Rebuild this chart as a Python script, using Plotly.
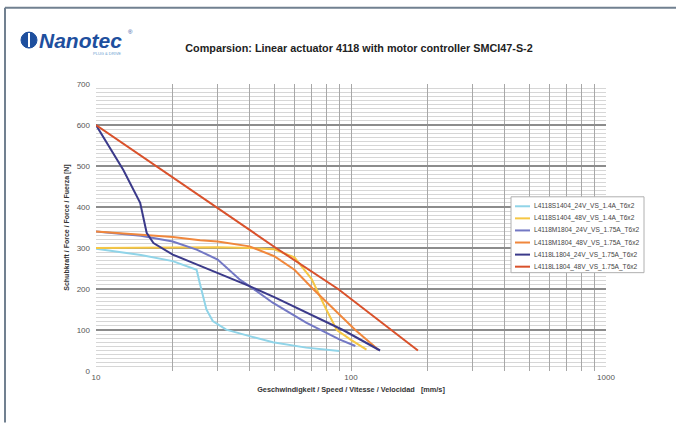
import plotly.graph_objects as go

# ---------------- data ----------------
series_names = [
    "L4118S1404_24V_VS_1.4A_T6x2",
    "L4118S1404_48V_VS_1.4A_T6x2",
    "L4118M1804_24V_VS_1.75A_T6x2",
    "L4118M1804_48V_VS_1.75A_T6x2",
    "L4118L1804_24V_VS_1.75A_T6x2",
    "L4118L1804_48V_VS_1.75A_T6x2",
]
series_colors = ["#90d4e8", "#f6c744", "#7378c4", "#f0873c", "#3b3a8a", "#d9512b"]

speed_s24 = [10, 15, 20, 24.8, 25.5, 27.1, 28.7, 32.4, 40, 49.4, 66.7, 90]
force_s24 = [298, 283, 268, 247, 215, 150, 122, 101, 85, 70, 57, 49]

speed_s48 = [10, 20, 30, 40, 50, 60, 70, 80, 88, 100, 115]
force_s48 = [300, 302, 302, 300, 297, 277, 225, 150, 100, 76, 52]

speed_m24 = [10, 15, 20, 24.8, 30, 36.6, 40, 49.5, 66.7, 90, 104]
force_m24 = [340, 330, 316, 296, 272, 223, 207, 166, 118, 77, 61]

speed_m48 = [10, 15, 20, 25.6, 30, 40, 50, 60, 71, 104, 128]
force_m48 = [340, 333, 327, 319, 316, 304, 280, 247, 200, 100, 52]

speed_l24 = [10, 12.8, 14.9, 15.3, 15.8, 16.8, 20, 24.8, 30, 40, 50, 63, 93, 130]
force_l24 = [600, 490, 410, 377, 337, 312, 284, 260, 239, 207, 180, 150, 100, 50]

speed_l48 = [10, 33.5, 50.8, 89, 144, 183]
force_l48 = [600, 378, 300, 200, 100, 50]

x_tick_values = [10, 20, 30, 40, 50, 60, 70, 80, 90,
                 100, 200, 300, 400, 500, 600, 700, 800, 900, 1000]
x_tick_labels = ["10"] + [""] * 8 + ["100"] + [""] * 8 + ["1000"]

title_text = "Comparsion: Linear actuator 4118 with motor controller SMCI47-S-2"
x_title = "Geschwindigkeit / Speed / Vitesse / Velocidad   [mm/s]"
y_title = "Schubkraft / Force / Force / Fuerza [N]"

speeds = [speed_s24, speed_s48, speed_m24, speed_m48, speed_l24, speed_l48]
forces = [force_s24, force_s48, force_m24, force_m48, force_l24, force_l48]

# ---------------- layout helpers (pixel -> paper) ----------------
W, H = 676, 423
L, R, T, B = 96, 606, 84, 371.5


def xp(px):
    return (px - L) / (R - L)


def yp(py):
    return (B - py) / (B - T)


FONT = "Liberation Sans, Arial, sans-serif"

fig = go.Figure()
for name, color, sx, fy in zip(series_names, series_colors, speeds, forces):
    fig.add_trace(go.Scatter(x=sx, y=fy, mode="lines", name=name,
                             line=dict(color=color, width=2),
                             showlegend=False))

shapes = []
annotations = []

# page frame
shapes.append(dict(type="line", xref="paper", yref="paper",
                   x0=xp(5), x1=xp(676), y0=yp(7.5), y1=yp(7.5),
                   line=dict(color="#718090", width=2)))
shapes.append(dict(type="line", xref="paper", yref="paper",
                   x0=xp(5), x1=xp(5), y0=yp(7.5), y1=yp(423),
                   line=dict(color="#718090", width=2)))

# custom compact legend
lx0, lx1, ly0, ly1 = 511, 644, 197, 273
shapes.append(dict(type="rect", xref="paper", yref="paper",
                   x0=xp(lx0), x1=xp(lx1), y0=yp(ly0), y1=yp(ly1),
                   fillcolor="white", line=dict(color="#b0b0b0", width=1),
                   layer="above"))
for i, (name, color) in enumerate(zip(series_names, series_colors)):
    ry = 206.5 + i * 12.1
    shapes.append(dict(type="line", xref="paper", yref="paper",
                       x0=xp(515), x1=xp(530), y0=yp(ry), y1=yp(ry),
                       line=dict(color=color, width=2), layer="above"))
    annotations.append(dict(text=name, xref="paper", yref="paper",
                            x=xp(532), y=yp(ry), xanchor="left", yanchor="middle",
                            showarrow=False,
                            font=dict(family=FONT, size=6.6, color="#444")))

# logo
shapes.append(dict(type="circle", xref="paper", yref="paper",
                   x0=xp(21), x1=xp(37), y0=yp(32), y1=yp(48),
                   fillcolor="#1e4f9e", line=dict(color="#1e4f9e", width=1)))
shapes.append(dict(type="line", xref="paper", yref="paper",
                   x0=xp(29), x1=xp(29), y0=yp(33), y1=yp(47),
                   line=dict(color="white", width=2)))
annotations.append(dict(text="<b><i>Nanotec</i></b>", xref="paper", yref="paper",
                        x=xp(37), y=yp(40), xanchor="left", yanchor="middle",
                        showarrow=False,
                        font=dict(family=FONT, size=21, color="#1e4f9e")))
annotations.append(dict(text="®", xref="paper", yref="paper",
                        x=xp(126), y=yp(32), xanchor="left", yanchor="middle",
                        showarrow=False,
                        font=dict(family=FONT, size=6, color="#1e4f9e")))
annotations.append(dict(text="PLUG & DRIVE", xref="paper", yref="paper",
                        x=xp(123), y=yp(53), xanchor="right", yanchor="middle",
                        showarrow=False,
                        font=dict(family=FONT, size=4, color="#6aa0d0")))

fig.update_layout(
    width=W, height=H,
    margin=dict(l=L, r=W - R, t=T, b=H - B, pad=0),
    paper_bgcolor="white", plot_bgcolor="white",
    font=dict(family=FONT, size=8, color="#555"),
    title=dict(text="<b>" + title_text + "</b>", xref="paper", yref="container",
               x=xp(359), xanchor="center", y=1 - 48 / H, yanchor="middle",
               font=dict(family=FONT, size=10.8, color="#222")),
    shapes=shapes, annotations=annotations,
    showlegend=False,
)

fig.update_xaxes(
    type="log", range=[1, 3],
    tickmode="array", tickvals=x_tick_values, ticktext=x_tick_labels,
    showgrid=True, gridcolor="#a8a8a8", gridwidth=1,
    showline=False, zeroline=False, ticks="",
    tickfont=dict(family=FONT, size=8, color="#555"),
    title=dict(text="<b>" + x_title + "</b>", standoff=5,
               font=dict(family=FONT, size=7.3, color="#333")),
)
fig.update_yaxes(
    range=[0, 700], dtick=100, tick0=0,
    showgrid=True, gridcolor="#8c8c8c", gridwidth=2,
    minor=dict(dtick=10, showgrid=True, gridcolor="#d6d6d6", gridwidth=1),
    showline=False, zeroline=False, ticks="",
    ticklabelstandoff=5,
    tickfont=dict(family=FONT, size=8, color="#555"),
    title=dict(text="<b>" + y_title + "</b>", standoff=6,
               font=dict(family=FONT, size=7, color="#333")),
)

fig.write_html("out.html",
               config={"displayModeBar": False},
               post_script="document.body.style.margin='0';"
                           "document.body.style.overflow='hidden';")
